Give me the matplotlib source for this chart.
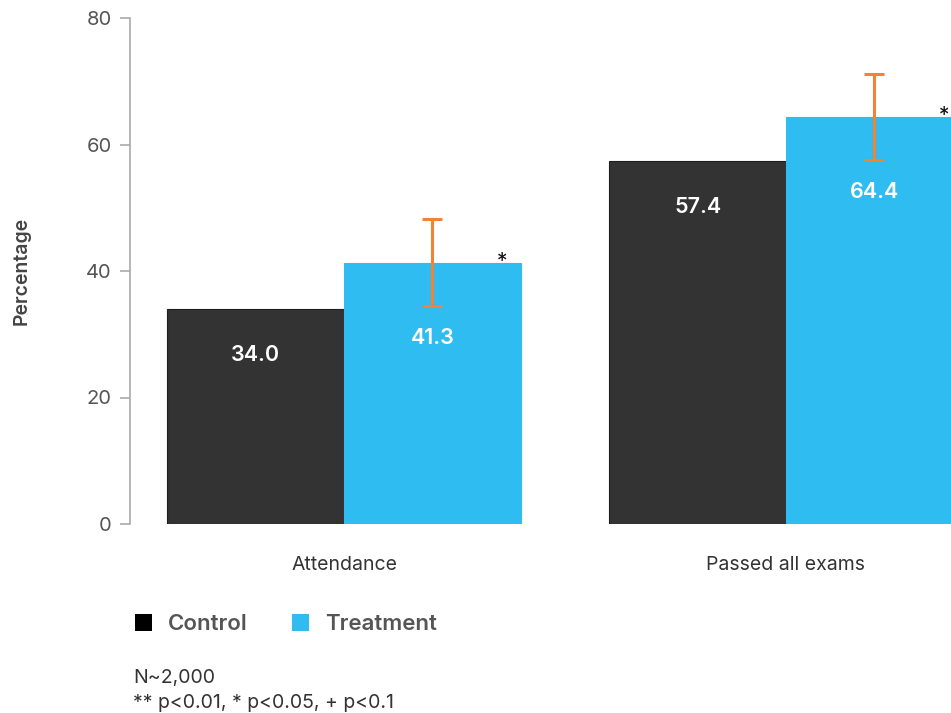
import matplotlib
matplotlib.use("Agg")
import matplotlib.pyplot as plt
from matplotlib.patches import Patch
import numpy as np

plt.rcParams['font.family'] = ['Inter', 'DejaVu Sans']

categories = ["Attendance", "Passed all exams"]
control = [34.0, 57.4]
treatment = [41.3, 64.4]
treat_err = [6.9, 6.8]
stars = ["*", "*"]
yticks = [0, 20, 40, 60, 80]

c_control = "#333333"
c_treat = "#2fbcf0"
c_err = "#ef8438"
grey = "#555555"

fig = plt.figure(figsize=(9.51, 7.13), dpi=100)
ax = fig.add_axes([130/951, (713-524)/713, (951-130)/951, (524-18)/713])

x = np.arange(len(categories))
w = 0.4
ax.bar(x - w/2, control, w, color=c_control, edgecolor="#1e1e1e", linewidth=0.8, zorder=2)
ax.bar(x + w/2, treatment, w, color=c_treat, edgecolor=c_treat, linewidth=0.8, zorder=2)
ax.errorbar(x + w/2, treatment, yerr=treat_err, fmt="none", ecolor=c_err,
            elinewidth=2.2, capsize=7, capthick=2.2, zorder=3)

for xi, v in zip(x, control):
    ax.annotate(f"{v:.1f}", (xi - w/2, v), xytext=(0, -33), textcoords="offset points",
                ha="center", va="center", color="white", fontsize=15.5, fontweight="semibold")
for xi, v in zip(x, treatment):
    ax.annotate(f"{v:.1f}", (xi + w/2, v), xytext=(0, -54), textcoords="offset points",
                ha="center", va="center", color="white", fontsize=15.5, fontweight="semibold")
for xi, v, s in zip(x, treatment, stars):
    ax.annotate(s, (xi + w/2 + 0.157, v), xytext=(0, -7), textcoords="offset points",
                ha="center", va="bottom", color="#111111", fontsize=15)

ax.set_xlim((130-344)/442, (951-344)/442)
ax.set_ylim(0, 80)
ax.set_yticks(yticks)
ax.set_yticklabels([str(t) for t in yticks])
ax.set_xticks(x)
ax.set_xticklabels(categories)
ax.tick_params(axis="x", length=0, pad=23, labelsize=14, labelcolor="#333333")
ax.tick_params(axis="y", length=7, width=1.2, color="#aaaaaa", pad=6, labelsize=14.5, labelcolor=grey)
for s in ["top", "right", "bottom"]:
    ax.spines[s].set_visible(False)
ax.spines["left"].set_color("#aaaaaa")
ax.spines["left"].set_linewidth(1.2)
ax.set_ylabel("Percentage", fontsize=14, color="#444444", fontweight="semibold", labelpad=40)

handles = [Patch(facecolor="#000000", edgecolor="none"), Patch(facecolor=c_treat, edgecolor="none")]
leg = fig.legend(handles, ["Control", "Treatment"], loc="center left",
                 bbox_to_anchor=(135/951, 1 - 624/713), frameon=False, ncol=2,
                 borderpad=0, borderaxespad=0,
                 handlelength=0.77, handleheight=0.77, handletextpad=0.72, columnspacing=2.0,
                 prop={"size": 16, "weight": "semibold"})
for t in leg.get_texts():
    t.set_color(grey)

fig.text(133/951, 1 - 678/713, "N~2,000", fontsize=14, color="#333333", va="center", ha="left")
fig.text(133/951, 1 - 703/713, "** p<0.01, * p<0.05, + p<0.1", fontsize=14, color="#333333", va="center", ha="left")

fig.savefig("out.png", dpi=100)
